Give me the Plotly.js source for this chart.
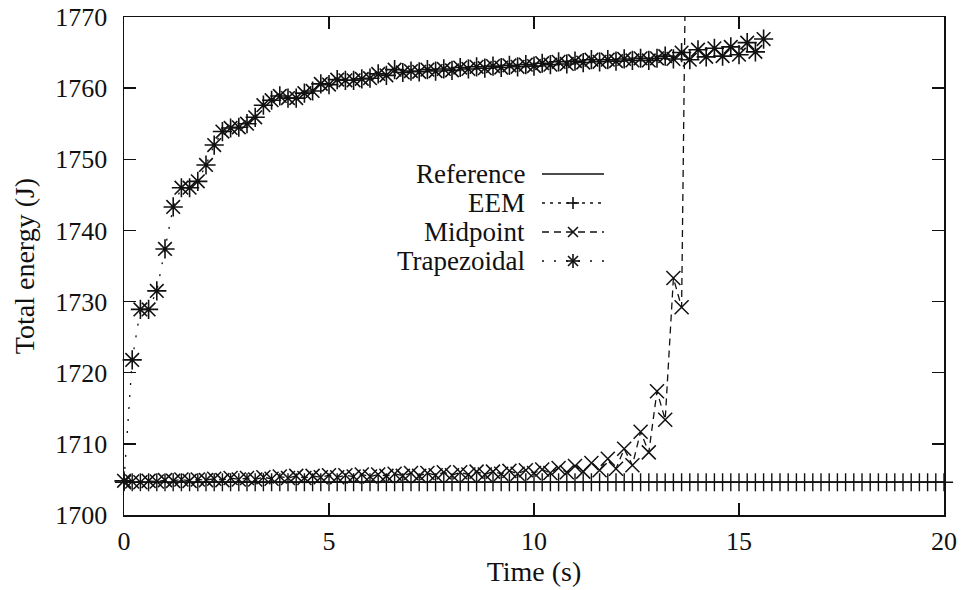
<!DOCTYPE html>
<html>
<head>
<meta charset="utf-8">
<script src="https://cdn.plot.ly/plotly-3.0.1.min.js"></script>
<style>html,body{margin:0;padding:0;background:#fff;}#chart{width:966px;height:590px;}</style>
</head>
<body>
<div id="chart"></div>
<script>
// ---- data ----
const time = [0,0.2,0.4,0.6,0.8,1,1.2,1.4,1.6,1.8,2,2.2,2.4,2.6,2.8,3,3.2,3.4,3.6,3.8,4,4.2,4.4,4.6,4.8,5,5.2,5.4,5.6,5.8,6,6.2,6.4,6.6,6.8,7,7.2,7.4,7.6,7.8,8,8.2,8.4,8.6,8.8,9,9.2,9.4,9.6,9.8,10,10.2,10.4,10.6,10.8,11,11.2,11.4,11.6,11.8,12,12.2,12.4,12.6,12.8,13,13.2,13.4,13.6,13.8,14,14.2,14.4,14.6,14.8,15,15.2,15.4,15.6,15.8,16,16.2,16.4,16.6,16.8,17,17.2,17.4,17.6,17.8,18,18.2,18.4,18.6,18.8,19,19.2,19.4,19.6,19.8,20];

const refTime = [0, 20];
const refEnergy = [1704.6, 1704.6];

const eemEnergy = [1704.6,1704.6,1704.6,1704.6,1704.6,1704.6,1704.6,1704.6,1704.6,1704.6,
1704.6,1704.6,1704.6,1704.6,1704.6,1704.6,1704.6,1704.6,1704.6,1704.6,
1704.6,1704.6,1704.6,1704.6,1704.6,1704.6,1704.6,1704.6,1704.6,1704.6,
1704.6,1704.6,1704.6,1704.6,1704.6,1704.6,1704.6,1704.6,1704.6,1704.6,
1704.6,1704.6,1704.6,1704.6,1704.6,1704.6,1704.6,1704.6,1704.6,1704.6,
1704.6,1704.6,1704.6,1704.6,1704.6,1704.6,1704.6,1704.6,1704.6,1704.6,
1704.6,1704.6,1704.6,1704.6,1704.6,1704.6,1704.6,1704.6,1704.6,1704.6,
1704.6,1704.6,1704.6,1704.6,1704.6,1704.6,1704.6,1704.6,1704.6,1704.6,
1704.6,1704.6,1704.6,1704.6,1704.6,1704.6,1704.6,1704.6,1704.6,1704.6,
1704.6,1704.6,1704.6,1704.6,1704.6,1704.6,1704.6,1704.6,1704.6,1704.6,
1704.6];

const midEnergy = [1704.6,1704.7,1704.6,1704.8,1704.7,1704.9,1704.8,1705.0,1704.8,1705.0,
1704.9,1705.1,1704.9,1705.2,1705.0,1705.2,1705.0,1705.3,1705.1,1705.4,
1705.2,1705.5,1705.2,1705.5,1705.3,1705.6,1705.3,1705.6,1705.4,1705.7,
1705.4,1705.7,1705.5,1705.8,1705.5,1705.9,1705.5,1705.9,1705.6,1706.0,
1705.6,1706.0,1705.7,1706.1,1705.7,1706.1,1705.8,1706.2,1705.8,1706.3,
1705.9,1706.4,1705.9,1706.6,1706.0,1706.9,1706.1,1707.3,1706.3,1707.9,
1706.5,1709.3,1707.0,1711.7,1708.8,1717.4,1713.4,1733.3,1729.2,1830];

const trapEnergy = [1704.8,1721.8,1728.9,1728.9,1731.5,1737.4,1743.3,1746.0,1746.0,1746.9,
1749.2,1752.0,1753.9,1754.4,1754.5,1755.0,1755.9,1757.6,1758.3,1758.9,
1758.6,1758.6,1759.3,1759.6,1760.6,1760.5,1761.2,1761.1,1761.1,1761.3,
1761.4,1762.0,1761.8,1762.6,1762.2,1762.4,1762.3,1762.6,1762.4,1762.7,
1762.5,1762.9,1762.7,1763.0,1762.8,1763.1,1762.9,1763.2,1763.0,1763.3,
1763.1,1763.5,1763.3,1763.7,1763.4,1763.8,1763.6,1764.0,1763.7,1764.0,
1763.8,1764.1,1763.9,1764.2,1763.9,1764.2,1764.5,1764.1,1765.0,1764.0,
1765.4,1764.4,1765.6,1764.5,1765.8,1764.7,1766.4,1765.1,1766.9];

const seriesNames = ['Reference', 'EEM', 'Midpoint', 'Trapezoidal'];
const xTicks = [0, 5, 10, 15, 20];
const yTicks = [1700, 1710, 1720, 1730, 1740, 1750, 1760, 1770];

// ---- styles ----
const FONT = '"Liberation Serif", "Times New Roman", serif';
const INK = '#111';
const styles = {
  Reference:   {dash: 'solid',     symbol: null},
  EEM:         {dash: '3px,5px',   symbol: 'cross-thin-open'},
  Midpoint:    {dash: '7px,5px',   symbol: 'x-thin-open'},
  Trapezoidal: {dash: '2px,10px',  symbol: 'asterisk-open'}
};

const traces = [
  {x: refTime, y: refEnergy, name: 'Reference', mode: 'lines',
   line: {color: INK, width: 1.5}, cliponaxis: true},
  {x: time.slice(0, eemEnergy.length), y: eemEnergy, name: 'EEM', mode: 'lines+markers',
   line: {color: INK, width: 1.2, dash: styles.EEM.dash},
   marker: {symbol: styles.EEM.symbol, size: 13, color: INK, line: {color: INK, width: 1.4}},
   cliponaxis: false},
  {x: time.slice(0, midEnergy.length), y: midEnergy, name: 'Midpoint', mode: 'lines+markers',
   line: {color: INK, width: 1.3, dash: styles.Midpoint.dash},
   marker: {symbol: styles.Midpoint.symbol, size: 14, color: INK, line: {color: INK, width: 1.5}},
   cliponaxis: true},
  {x: time.slice(0, trapEnergy.length), y: trapEnergy, name: 'Trapezoidal', mode: 'lines+markers',
   line: {color: INK, width: 1.3, dash: styles.Trapezoidal.dash},
   marker: {symbol: styles.Trapezoidal.symbol, size: 16, color: INK, line: {color: INK, width: 1.6}},
   cliponaxis: false}
];

// ---- layout geometry ----
const W = 966, H = 590, ML = 124, MR = 22, MT = 17, MB = 75;
const PW = W - ML - MR, PH = H - MT - MB;
const px = v => (v - ML) / PW;          // pixel x -> paper
const py = v => (H - MB - v) / PH;      // pixel y -> paper

// custom gnuplot-style legend (text right, sample left->right)
const legendRows = [174, 203, 232, 261];
const textRight = 527, lineL = 542, lineR = 604, markC = 573;
const annotations = [];
const shapes = [];
seriesNames.forEach((nm, i) => {
  const yy = legendRows[i];
  annotations.push({xref: 'paper', yref: 'paper', x: px(textRight), y: py(yy),
    xanchor: 'right', yanchor: 'middle', showarrow: false, text: nm,
    font: {family: FONT, size: 27, color: INK}});
  shapes.push({type: 'line', xref: 'paper', yref: 'paper',
    x0: px(lineL), x1: px(lineR), y0: py(yy), y1: py(yy),
    line: {color: INK, width: nm === 'Reference' ? 1.5 : 1.3, dash: styles[nm].dash}});
  const s = styles[nm].symbol;
  const seg = (dx0, dy0, dx1, dy1) => shapes.push({type: 'line', xref: 'paper', yref: 'paper',
    x0: px(markC + dx0), y0: py(yy + dy0), x1: px(markC + dx1), y1: py(yy + dy1),
    line: {color: INK, width: 1.6}});
  if (s === 'cross-thin-open') { seg(-6, 0, 6, 0); seg(0, -6, 0, 6); }
  if (s === 'x-thin-open') { seg(-5, -5, 5, 5); seg(-5, 5, 5, -5); }
  if (s === 'asterisk-open') { seg(-7, 0, 7, 0); seg(0, -7, 0, 7); seg(-5, -5, 5, 5); seg(-5, 5, 5, -5); }
});

const axisCommon = {
  showline: true, linecolor: INK, linewidth: 1.5, mirror: 'ticks',
  ticks: 'inside', ticklen: 12, tickwidth: 1.5, tickcolor: INK,
  showgrid: false, zeroline: false, fixedrange: true,
  tickfont: {family: FONT, size: 26, color: INK}
};

const layout = {
  width: W, height: H,
  margin: {l: ML, r: MR, t: MT, b: MB, pad: 0},
  paper_bgcolor: '#fff', plot_bgcolor: '#fff',
  showlegend: false,
  xaxis: Object.assign({}, axisCommon, {
    range: [0, 20], tickvals: xTicks, ticktext: xTicks.map(String),
    ticklabelstandoff: 2,
    title: {text: 'Time (s)', font: {family: FONT, size: 28, color: INK}, standoff: 2}
  }),
  yaxis: Object.assign({}, axisCommon, {
    range: [1700, 1770], tickvals: yTicks, ticktext: yTicks.map(String),
    ticklabelstandoff: 10,
    title: {text: 'Total energy (J)', font: {family: FONT, size: 28, color: INK}, standoff: 12}
  }),
  annotations: annotations,
  shapes: shapes
};

Plotly.newPlot('chart', traces, layout, {staticPlot: true, displayModeBar: false});
</script>
</body>
</html>
